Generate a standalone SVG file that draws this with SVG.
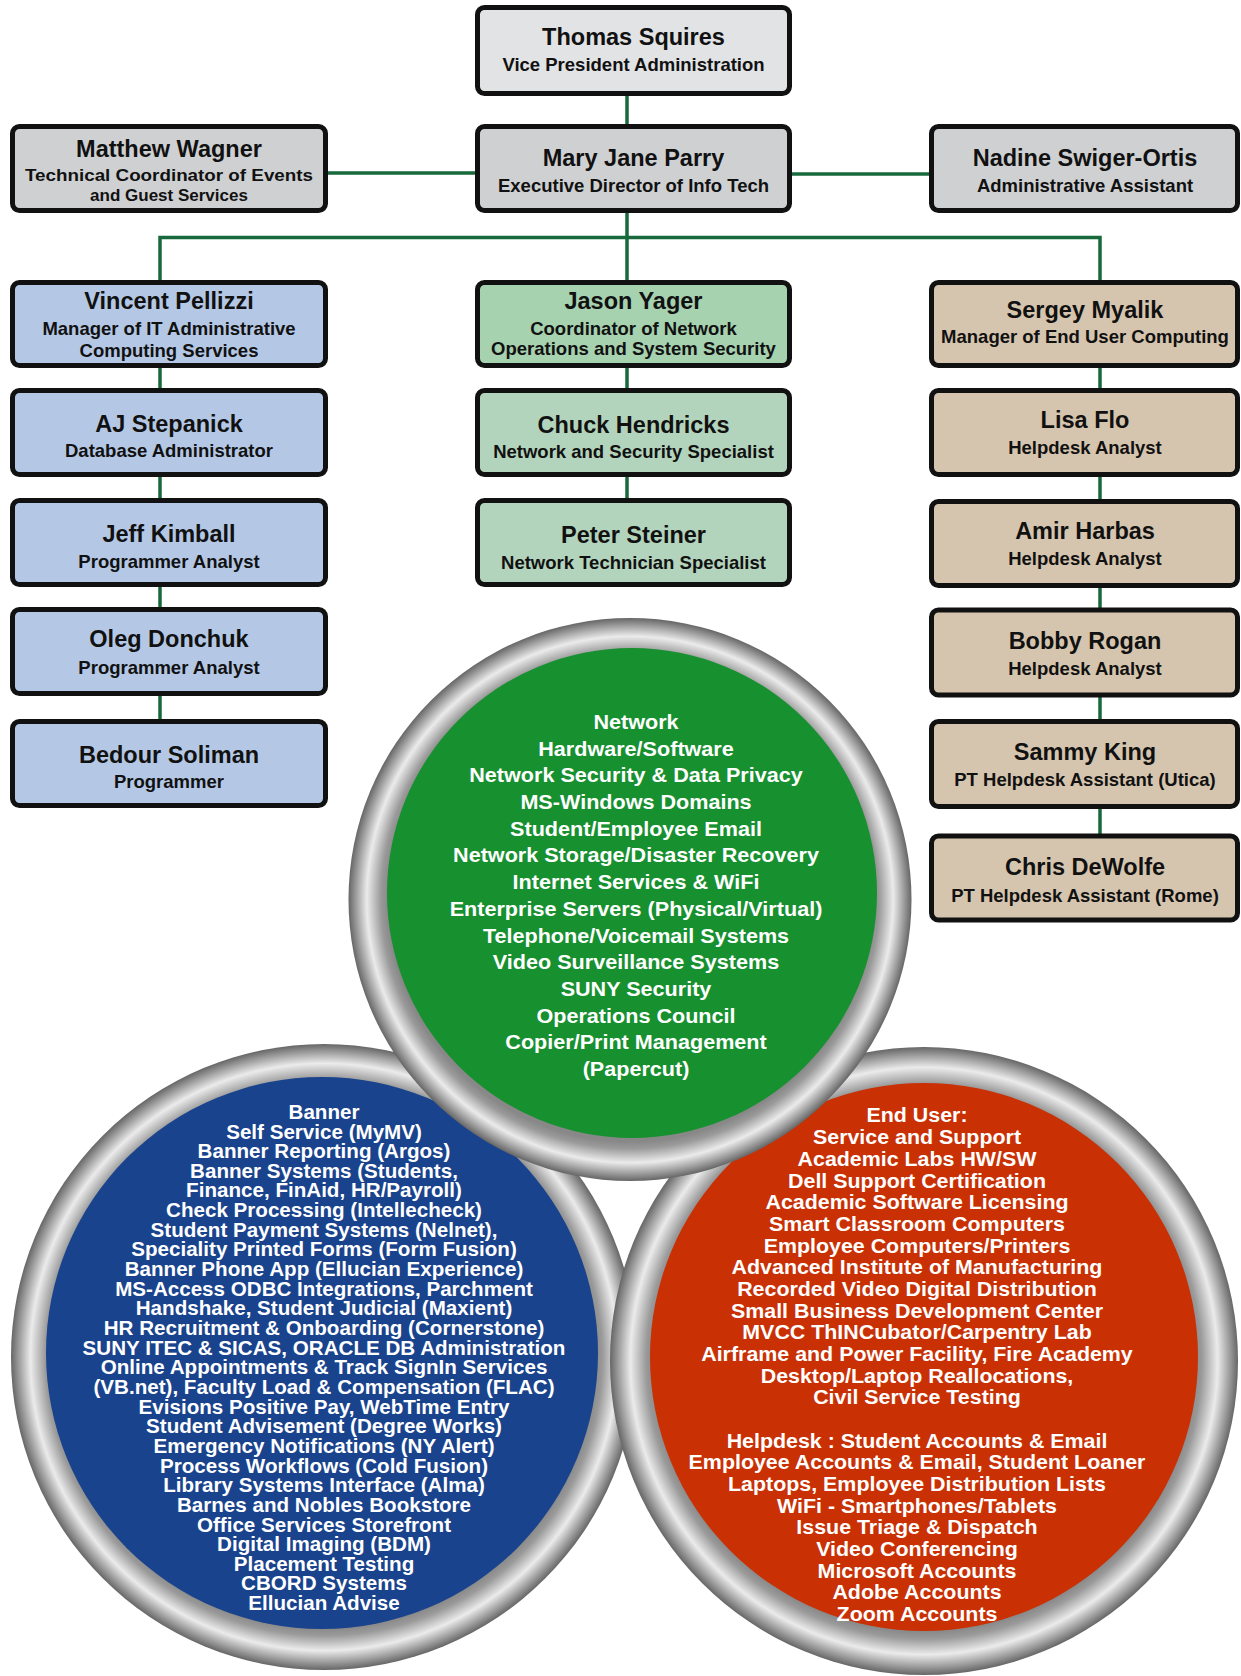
<svg xmlns="http://www.w3.org/2000/svg" width="1241" height="1676" viewBox="0 0 1241 1676">
<defs>
<style>
.box{stroke:#111;stroke-width:5}
.gray1{fill:#e2e3e5}
.gray2{fill:#cfd0d2}
.blue{fill:#b4c8e6}
.green1{fill:#a6d2b0}
.green2{fill:#b3d4bc}
.tan{fill:#d6c5ae}
.nm{font-family:"Liberation Sans",Arial,sans-serif;font-weight:bold;font-size:23.5px;fill:#111;text-anchor:middle}
.sb{font-family:"Liberation Sans",Arial,sans-serif;font-weight:bold;font-size:18.5px;fill:#111;text-anchor:middle}
.sb2{font-family:"Liberation Sans",Arial,sans-serif;font-weight:bold;font-size:17px;fill:#111;text-anchor:middle}
.conn{stroke:#17683a;stroke-width:3.5;fill:none}
.ct{font-family:"Liberation Sans",Arial,sans-serif;font-weight:bold;font-size:20px;fill:#fff;text-anchor:middle}
</style>
<radialGradient id="ringGreen" gradientUnits="userSpaceOnUse" cx="630" cy="899.5" r="281.5">
<stop offset="0" stop-color="#888"/><stop offset="0.86" stop-color="#888"/><stop offset="0.885" stop-color="#9a9a9a"/><stop offset="0.935" stop-color="#ebebeb"/><stop offset="0.975" stop-color="#9a9a9a"/><stop offset="1" stop-color="#666"/>
</radialGradient>
<radialGradient id="ringBlue" gradientUnits="userSpaceOnUse" cx="324" cy="1357" r="313">
<stop offset="0" stop-color="#888"/><stop offset="0.865" stop-color="#888"/><stop offset="0.89" stop-color="#9a9a9a"/><stop offset="0.938" stop-color="#ebebeb"/><stop offset="0.976" stop-color="#9a9a9a"/><stop offset="1" stop-color="#666"/>
</radialGradient>
<radialGradient id="ringRed" gradientUnits="userSpaceOnUse" cx="924" cy="1361" r="314">
<stop offset="0" stop-color="#888"/><stop offset="0.86" stop-color="#888"/><stop offset="0.885" stop-color="#9a9a9a"/><stop offset="0.935" stop-color="#ebebeb"/><stop offset="0.975" stop-color="#9a9a9a"/><stop offset="1" stop-color="#666"/>
</radialGradient>
</defs>
<rect width="1241" height="1676" fill="#fff"/>

<g id="connectors" class="conn">
<line x1="627" y1="95" x2="627" y2="125"/>
<line x1="327" y1="173" x2="477" y2="173"/>
<line x1="791" y1="174" x2="930" y2="174"/>
<line x1="627" y1="212" x2="627" y2="281"/>
<path d="M160 281 V237.5 H1100 V281"/>
<line x1="160" y1="366" x2="160" y2="390"/>
<line x1="160" y1="476" x2="160" y2="500"/>
<line x1="160" y1="586" x2="160" y2="609"/>
<line x1="160" y1="695" x2="160" y2="721"/>
<line x1="627" y1="366" x2="627" y2="390"/>
<line x1="627" y1="476" x2="627" y2="500"/>
<line x1="1100" y1="366" x2="1100" y2="390"/>
<line x1="1100" y1="476" x2="1100" y2="502"/>
<line x1="1100" y1="587" x2="1100" y2="610"/>
<line x1="1100" y1="697" x2="1100" y2="722"/>
<line x1="1100" y1="808" x2="1100" y2="836"/>
</g>

<g id="thomas"><rect class="box gray1" x="477.5" y="7.5" width="312" height="86" rx="7"/><text class="nm" x="633.5" y="45.4">Thomas Squires</text><text class="sb" x="633.5" y="70.6">Vice President Administration</text></g>
<g id="matthew"><rect class="box gray2" x="12.5" y="126.5" width="313" height="84" rx="7"/><text class="nm" x="169" y="156.5">Matthew Wagner</text><text class="sb2" x="169" y="181"><tspan textLength="288" lengthAdjust="spacingAndGlyphs">Technical Coordinator of Events</tspan></text><text class="sb2" x="169" y="200.5">and Guest Services</text></g>
<g id="mary"><rect class="box gray2" x="477.5" y="126.5" width="312" height="84" rx="7"/><text class="nm" x="633.5" y="166">Mary Jane Parry</text><text class="sb" x="633.5" y="191.7">Executive Director of Info Tech</text></g>
<g id="nadine"><rect class="box gray2" x="931.5" y="126.5" width="306" height="84" rx="7"/><text class="nm" x="1085" y="166">Nadine Swiger-Ortis</text><text class="sb" x="1085" y="192">Administrative Assistant</text></g>

<g id="vincent"><rect class="box blue" x="12.5" y="282.5" width="313" height="83" rx="7"/><text class="nm" x="169" y="309.3">Vincent Pellizzi</text><text class="sb" x="169" y="335">Manager of IT Administrative</text><text class="sb" x="169" y="356.7">Computing Services</text></g>
<g id="jason"><rect class="box green1" x="477.5" y="282.5" width="312" height="83" rx="7"/><text class="nm" x="633.5" y="309.3">Jason Yager</text><text class="sb" x="633.5" y="335">Coordinator of Network</text><text class="sb" x="633.5" y="354.5">Operations and System Security</text></g>
<g id="sergey"><rect class="box tan" x="931.5" y="282.5" width="306" height="83" rx="7"/><text class="nm" x="1085" y="317.5">Sergey Myalik</text><text class="sb" x="1085" y="343.3">Manager of End User Computing</text></g>

<g id="aj"><rect class="box blue" x="12.5" y="390.5" width="313" height="84" rx="7"/><text class="nm" x="169" y="431.6">AJ Stepanick</text><text class="sb" x="169" y="457">Database Administrator</text></g>
<g id="jeff"><rect class="box blue" x="12.5" y="500.5" width="313" height="84" rx="7"/><text class="nm" x="169" y="541.7">Jeff Kimball</text><text class="sb" x="169" y="568">Programmer Analyst</text></g>
<g id="oleg"><rect class="box blue" x="12.5" y="609.5" width="313" height="84" rx="7"/><text class="nm" x="169" y="647.3">Oleg Donchuk</text><text class="sb" x="169" y="674">Programmer Analyst</text></g>
<g id="bedour"><rect class="box blue" x="12.5" y="721.5" width="313" height="84" rx="7"/><text class="nm" x="169" y="762.7">Bedour Soliman</text><text class="sb" x="169" y="788.3">Programmer</text></g>

<g id="chuck"><rect class="box green2" x="477.5" y="390.5" width="312" height="84" rx="7"/><text class="nm" x="633.5" y="433">Chuck Hendricks</text><text class="sb" x="633.5" y="458.3">Network and Security Specialist</text></g>
<g id="peter"><rect class="box green2" x="477.5" y="500.5" width="312" height="84" rx="7"/><text class="nm" x="633.5" y="542.5">Peter Steiner</text><text class="sb" x="633.5" y="568.6">Network Technician Specialist</text></g>

<g id="lisa"><rect class="box tan" x="931.5" y="390.5" width="306" height="84" rx="7"/><text class="nm" x="1085" y="428.2">Lisa Flo</text><text class="sb" x="1085" y="453.9">Helpdesk Analyst</text></g>
<g id="amir"><rect class="box tan" x="931.5" y="501.5" width="306" height="84" rx="7"/><text class="nm" x="1085" y="538.6">Amir Harbas</text><text class="sb" x="1085" y="564.6">Helpdesk Analyst</text></g>
<g id="bobby"><rect class="box tan" x="931.5" y="610" width="306" height="85" rx="7"/><text class="nm" x="1085" y="648.6">Bobby Rogan</text><text class="sb" x="1085" y="674.6">Helpdesk Analyst</text></g>
<g id="sammy"><rect class="box tan" x="931.5" y="721.5" width="306" height="85" rx="7"/><text class="nm" x="1085" y="760">Sammy King</text><text class="sb" x="1085" y="786">PT Helpdesk Assistant (Utica)</text></g>
<g id="chris"><rect class="box tan" x="931.5" y="836" width="306" height="84" rx="7"/><text class="nm" x="1085" y="875.4">Chris DeWolfe</text><text class="sb" x="1085" y="902">PT Helpdesk Assistant (Rome)</text></g>

<g id="circle-blue">
<circle cx="324" cy="1357" r="313" fill="url(#ringBlue)"/>
<circle cx="322" cy="1353" r="276" fill="#1a438d"/>
<g transform="translate(324 0) scale(1.03 1)">
<text class="ct" y="1118.9"><tspan x="0">Banner</tspan><tspan x="0" dy="19.65">Self Service (MyMV)</tspan><tspan x="0" dy="19.65">Banner Reporting (Argos)</tspan><tspan x="0" dy="19.65">Banner Systems (Students,</tspan><tspan x="0" dy="19.65">Finance, FinAid, HR/Payroll)</tspan><tspan x="0" dy="19.65">Check Processing (Intellecheck)</tspan><tspan x="0" dy="19.65">Student Payment Systems (Nelnet),</tspan><tspan x="0" dy="19.65">Speciality Printed Forms (Form Fusion)</tspan><tspan x="0" dy="19.65">Banner Phone App (Ellucian Experience)</tspan><tspan x="0" dy="19.65">MS-Access ODBC Integrations, Parchment</tspan><tspan x="0" dy="19.65">Handshake, Student Judicial (Maxient)</tspan><tspan x="0" dy="19.65">HR Recruitment &amp; Onboarding (Cornerstone)</tspan><tspan x="0" dy="19.65">SUNY ITEC &amp; SICAS, ORACLE DB Administration</tspan><tspan x="0" dy="19.65">Online Appointments &amp; Track SignIn Services</tspan><tspan x="0" dy="19.65">(VB.net), Faculty Load &amp; Compensation (FLAC)</tspan><tspan x="0" dy="19.65">Evisions Positive Pay, WebTime Entry</tspan><tspan x="0" dy="19.65">Student Advisement (Degree Works)</tspan><tspan x="0" dy="19.65">Emergency Notifications (NY Alert)</tspan><tspan x="0" dy="19.65">Process Workflows (Cold Fusion)</tspan><tspan x="0" dy="19.65">Library Systems Interface (Alma)</tspan><tspan x="0" dy="19.65">Barnes and Nobles Bookstore</tspan><tspan x="0" dy="19.65">Office Services Storefront</tspan><tspan x="0" dy="19.65">Digital Imaging (BDM)</tspan><tspan x="0" dy="19.65">Placement Testing</tspan><tspan x="0" dy="19.65">CBORD Systems</tspan><tspan x="0" dy="19.65">Ellucian Advise</tspan></text>
</g>
</g>

<g id="circle-red">
<circle cx="924" cy="1361" r="314" fill="url(#ringRed)"/>
<circle cx="924" cy="1357" r="274" fill="#c93004"/>
<g transform="translate(917 0) scale(1.07 1)">
<text class="ct" y="1122.5"><tspan x="0">End User:</tspan><tspan x="0" dy="21.68">Service and Support</tspan><tspan x="0" dy="21.68">Academic Labs HW/SW</tspan><tspan x="0" dy="21.68">Dell Support Certification</tspan><tspan x="0" dy="21.68">Academic Software Licensing</tspan><tspan x="0" dy="21.68">Smart Classroom Computers</tspan><tspan x="0" dy="21.68">Employee Computers/Printers</tspan><tspan x="0" dy="21.68">Advanced Institute of Manufacturing</tspan><tspan x="0" dy="21.68">Recorded Video Digital Distribution</tspan><tspan x="0" dy="21.68">Small Business Development Center</tspan><tspan x="0" dy="21.68">MVCC ThINCubator/Carpentry Lab</tspan><tspan x="0" dy="21.68">Airframe and Power Facility, Fire Academy</tspan><tspan x="0" dy="21.68">Desktop/Laptop Reallocations,</tspan><tspan x="0" dy="21.68">Civil Service Testing</tspan><tspan x="0" dy="43.36">Helpdesk : Student Accounts &amp; Email</tspan><tspan x="0" dy="21.68">Employee Accounts &amp; Email, Student Loaner</tspan><tspan x="0" dy="21.68">Laptops, Employee Distribution Lists</tspan><tspan x="0" dy="21.68">WiFi - Smartphones/Tablets</tspan><tspan x="0" dy="21.68">Issue Triage &amp; Dispatch</tspan><tspan x="0" dy="21.68">Video Conferencing</tspan><tspan x="0" dy="21.68">Microsoft Accounts</tspan><tspan x="0" dy="21.68">Adobe Accounts</tspan><tspan x="0" dy="21.68">Zoom Accounts</tspan></text>
</g>
</g>

<g id="circle-green">
<circle cx="630" cy="899.5" r="281.5" fill="url(#ringGreen)"/>
<circle cx="632" cy="893" r="245" fill="#17902f"/>
<g transform="translate(636 0) scale(1.08 1)">
<text class="ct" y="729"><tspan x="0">Network</tspan><tspan x="0" dy="26.7">Hardware/Software</tspan><tspan x="0" dy="26.7">Network Security &amp; Data Privacy</tspan><tspan x="0" dy="26.7">MS-Windows Domains</tspan><tspan x="0" dy="26.7">Student/Employee Email</tspan><tspan x="0" dy="26.7">Network Storage/Disaster Recovery</tspan><tspan x="0" dy="26.7">Internet Services &amp; WiFi</tspan><tspan x="0" dy="26.7">Enterprise Servers (Physical/Virtual)</tspan><tspan x="0" dy="26.7">Telephone/Voicemail Systems</tspan><tspan x="0" dy="26.7">Video Surveillance Systems</tspan><tspan x="0" dy="26.7">SUNY Security</tspan><tspan x="0" dy="26.7">Operations Council</tspan><tspan x="0" dy="26.7">Copier/Print Management</tspan><tspan x="0" dy="26.7">(Papercut)</tspan></text>
</g>
</g>
</svg>
